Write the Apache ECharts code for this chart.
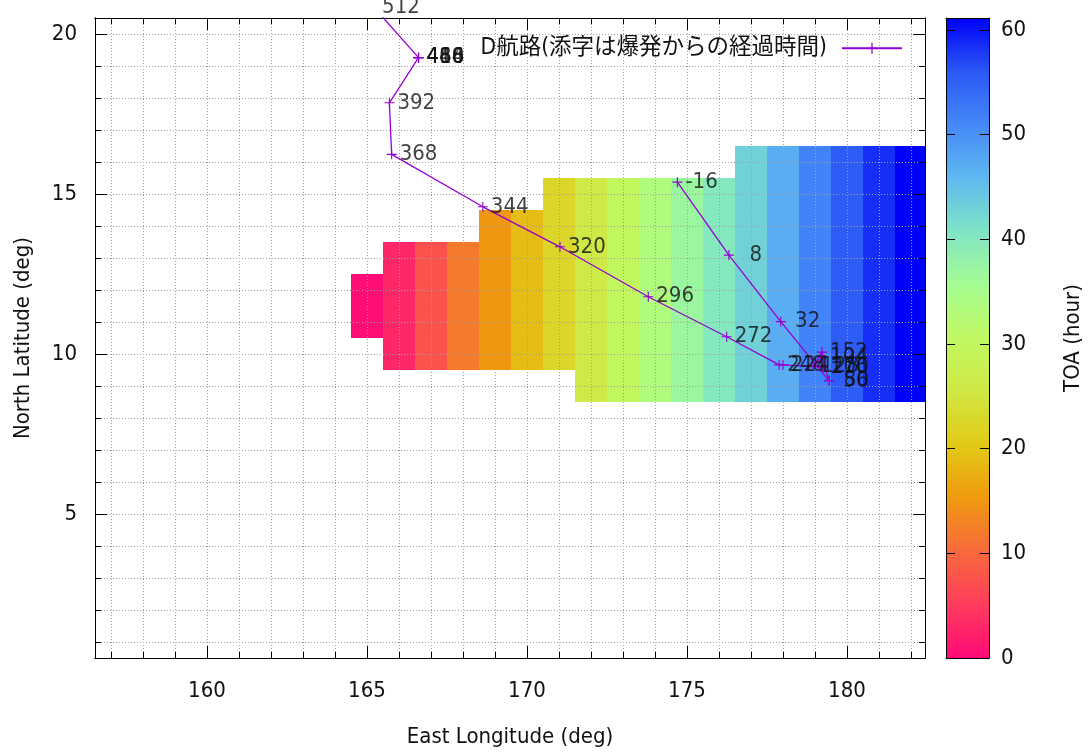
<!DOCTYPE html>
<html>
<head>
<meta charset="utf-8">
<script src="https://cdn.jsdelivr.net/npm/echarts@6/dist/echarts.min.js"></script>
<style>
html, body { margin: 0; padding: 0; background: #fff; }
#chart { width: 1091px; height: 754px; }
</style>
</head>
<body>
<div id="chart"></div>
<script>
// Arrival-time grid: one column per degree of longitude, cells span latLow..latHigh
const cellLon     = [165, 166, 167, 168, 169, 170, 171, 172, 173, 174, 175, 176, 177, 178, 179, 180, 181, 182];
const cellLatLow  = [ 11,  10,  10,  10,  10,  10,  10,   9,   9,   9,   9,   9,   9,   9,   9,   9,   9,   9];
const cellLatHigh = [ 12,  13,  13,  13,  14,  14,  15,  15,  15,  15,  15,  15,  16,  16,  16,  16,  16,  16];
const cellToa     = [0.5, 3, 7.5, 12, 15, 19, 22.5, 26, 30, 33.5, 37, 40, 43, 47, 51.5, 55.5, 58.5, 61.1];

// Route D, positions every 24 hours (hours since the explosion)
const trackHours = [-16, 8, 32, 56, 80, 104, 128, 152, 176, 200, 224, 248, 272, 296, 320, 344, 368, 392, 416, 440, 464, 488, 512];
const trackLon   = [174.70, 176.31, 177.93, 179.44, 179.45, 179.22, 178.94, 179.22, 179.22, 179.25, 178.00, 177.88, 176.24, 173.79, 171.03, 168.62, 165.77, 165.70, 166.61, 166.61, 166.61, 166.61, 165.22];
const trackLat   = [15.37, 13.09, 11.01, 9.16, 9.17, 9.91, 9.63, 10.06, 9.59, 9.59, 9.66, 9.66, 10.54, 11.79, 13.35, 14.60, 16.24, 17.85, 19.26, 19.26, 19.26, 19.26, 20.83];

// Axis ticks and labels
const xMinorTicks = [157, 158, 159, 160, 161, 162, 163, 164, 165, 166, 167, 168, 169, 170, 171, 172, 173, 174, 175, 176, 177, 178, 179, 180, 181, 182];
const xMajorTicks = [160, 165, 170, 175, 180];
const yMinorTicks = [1, 2, 3, 4, 5, 6, 7, 8, 9, 10, 11, 12, 13, 14, 15, 16, 17, 18, 19, 20];
const yMajorTicks = [5, 10, 15, 20];
const cbTicks = [0, 10, 20, 30, 40, 50, 60];

// Colour scale for TOA (hours)
const cbMin = 0;
const cbMax = 61.15;
const palette = ['#ff0a78', '#ff3c5c', '#f86a3c', '#f09a10', '#e2ca16', '#d0e844', '#c0f862',
                 '#a4fc92', '#80e4c6', '#60b8f0', '#4488f8', '#2a58f5', '#0000f8'];

const xRange = [156.5, 182.4375];
const yRange = [0.5, 20.5];

const trackName = 'D航路(添字は爆発からの経過時間)';
const FONT = '"DejaVu Sans Condensed", "DejaVu Sans", sans-serif';
const CJK_FONT = '"DejaVu Sans Condensed", "Noto Sans CJK JP", sans-serif';
const FS = 22;

const cellData = [];
cellLon.forEach((lon, i) => {
  for (let lat = cellLatLow[i]; lat <= cellLatHigh[i]; lat++) {
    cellData.push([lon, lat, cellToa[i]]);
  }
});
const trackData = trackLon.map((lon, i) => [lon, trackLat[i], trackHours[i]]);

const chart = echarts.init(document.getElementById('chart'), null, { renderer: 'canvas' });

const axisLineStyle = { color: '#000', width: 1 };
const gridDots = { color: '#a0a0a0', width: 1, type: [1, 2] };

function xAxisDef(position, ticks, len, extra) {
  return Object.assign({
    type: 'value', gridIndex: 0, position: position,
    min: xRange[0], max: xRange[1], z: 3,
    axisLine: { show: true, onZero: false, lineStyle: axisLineStyle },
    axisTick: { show: true, inside: true, length: len, customValues: ticks, lineStyle: axisLineStyle },
    axisLabel: { show: false },
    splitLine: { show: false }
  }, extra || {});
}
function yAxisDef(position, ticks, len, extra) {
  return Object.assign({
    type: 'value', gridIndex: 0, position: position,
    min: yRange[0], max: yRange[1], z: 3,
    axisLine: { show: true, onZero: false, lineStyle: axisLineStyle },
    axisTick: { show: true, inside: true, length: len, customValues: ticks, lineStyle: axisLineStyle },
    axisLabel: { show: false },
    splitLine: { show: false }
  }, extra || {});
}

const option = {
  animation: false,
  backgroundColor: '#fff',
  textStyle: { fontFamily: FONT },
  grid: [
    { left: 95, top: 18, width: 830, height: 640, containLabel: false },
    { left: 946, top: 18, width: 43, height: 640, containLabel: false }
  ],
  legend: {
    data: [{ name: trackName }],
    right: 183, top: 32,
    align: 'right',
    itemWidth: 60, itemHeight: 14,
    selectedMode: false,
    textStyle: { fontFamily: CJK_FONT, fontSize: 22.5, color: '#111', padding: [0, 10, 0, 0] }
  },
  visualMap: {
    type: 'continuous', show: false,
    min: cbMin, max: cbMax, dimension: 2, seriesIndex: 0,
    inRange: { color: palette }
  },
  xAxis: [
    xAxisDef('bottom', xMinorTicks, 6, {
      axisLabel: { show: true, customValues: xMajorTicks, margin: 22, fontSize: FS, color: '#111', fontFamily: FONT },
      splitLine: { show: true, lineStyle: gridDots },
      name: 'East Longitude (deg)', nameLocation: 'middle', nameGap: 68,
      nameTextStyle: { fontSize: FS, color: '#111', fontFamily: FONT }
    }),
    xAxisDef('bottom', xMajorTicks, 12),
    xAxisDef('top', xMinorTicks, 6),
    xAxisDef('top', xMajorTicks, 12),
    { type: 'value', gridIndex: 1, position: 'bottom', min: 0, max: 1, z: 5,
      axisLine: { show: true, onZero: false, lineStyle: axisLineStyle },
      axisTick: { show: false }, axisLabel: { show: false }, splitLine: { show: false } },
    { type: 'value', gridIndex: 1, position: 'top', min: 0, max: 1, z: 5,
      axisLine: { show: true, onZero: false, lineStyle: axisLineStyle },
      axisTick: { show: false }, axisLabel: { show: false }, splitLine: { show: false } }
  ],
  yAxis: [
    yAxisDef('left', yMinorTicks, 6, {
      axisLabel: { show: true, customValues: yMajorTicks, margin: 18, fontSize: FS, color: '#111', fontFamily: FONT },
      splitLine: { show: true, lineStyle: gridDots },
      name: 'North Latitude (deg)', nameLocation: 'middle', nameGap: 61, nameRotate: 90,
      nameTextStyle: { fontSize: FS, color: '#111', fontFamily: FONT }
    }),
    yAxisDef('left', yMajorTicks, 12),
    yAxisDef('right', yMinorTicks, 6),
    yAxisDef('right', yMajorTicks, 12),
    { type: 'value', gridIndex: 1, position: 'left', min: cbMin, max: cbMax, z: 5,
      axisLine: { show: true, onZero: false, lineStyle: axisLineStyle },
      axisTick: { show: true, inside: true, length: 9, customValues: cbTicks, lineStyle: axisLineStyle },
      axisLabel: { show: false }, splitLine: { show: false } },
    { type: 'value', gridIndex: 1, position: 'right', min: cbMin, max: cbMax, z: 5,
      axisLine: { show: true, onZero: false, lineStyle: axisLineStyle },
      axisTick: { show: true, inside: true, length: 9, customValues: cbTicks, lineStyle: axisLineStyle },
      axisLabel: { show: true, customValues: cbTicks, margin: 12, fontSize: FS, color: '#111', fontFamily: FONT },
      splitLine: { show: false },
      name: 'TOA (hour)', nameLocation: 'middle', nameGap: 73, nameRotate: 90,
      nameTextStyle: { fontSize: FS, color: '#111', fontFamily: FONT } }
  ],
  series: [
    {
      // arrival-time cells, coloured through the visual map
      type: 'custom',
      xAxisIndex: 0, yAxisIndex: 0,
      data: cellData,
      encode: { x: 0, y: 1 },
      z: 1,
      silent: true,
      renderItem: function (params, api) {
        const lon = api.value(0), lat = api.value(1);
        const p0 = api.coord([lon - 0.5, lat + 0.5]);
        const p1 = api.coord([lon + 0.5, lat - 0.5]);
        const cs = params.coordSys;
        const rect = echarts.graphic.clipRectByRect(
          { x: p0[0], y: p0[1], width: p1[0] - p0[0], height: p1[1] - p0[1] },
          { x: cs.x, y: cs.y, width: cs.width, height: cs.height });
        if (!rect) return null;
        return { type: 'rect', shape: rect, style: { fill: api.visual('color') } };
      }
    },
    {
      name: trackName,
      type: 'line',
      xAxisIndex: 0, yAxisIndex: 0,
      data: trackData,
      clip: true,
      z: 6,
      symbol: 'path://M4,0h1v4h4v1h-4v4h-1v-4h-4v-1h4z',
      symbolSize: 10,
      showAllSymbol: true,
      itemStyle: { color: '#9400d3' },
      lineStyle: { color: '#9400d3', width: 1.3 },
      label: { show: false }
    },
    {
      // hour labels next to each track position
      type: 'scatter',
      xAxisIndex: 0, yAxisIndex: 0,
      data: trackData,
      clip: false,
      silent: true,
      z: 7,
      symbol: 'circle',
      symbolSize: 10,
      itemStyle: { color: 'rgba(0,0,0,0)' },
      label: {
        show: true, position: 'right', distance: 3,
        fontSize: FS, color: '#111', fontFamily: FONT,
        formatter: function (p) { return String(p.value[2]).padStart(3, ' '); }
      }
    },
    {
      // colour bar
      type: 'custom',
      xAxisIndex: 4, yAxisIndex: 4,
      data: [[0, cbMin, 1, cbMax]],
      silent: true,
      z: 2,
      renderItem: function (params, api) {
        const p0 = api.coord([api.value(0), api.value(3)]);
        const p1 = api.coord([api.value(2), api.value(1)]);
        const stops = palette.map((c, i) => ({ offset: i / (palette.length - 1), color: c }));
        return {
          type: 'rect',
          shape: { x: p0[0], y: p0[1], width: p1[0] - p0[0], height: p1[1] - p0[1] },
          style: { fill: new echarts.graphic.LinearGradient(0, 1, 0, 0, stops) }
        };
      }
    }
  ]
};

chart.setOption(option);
</script>
</body>
</html>
